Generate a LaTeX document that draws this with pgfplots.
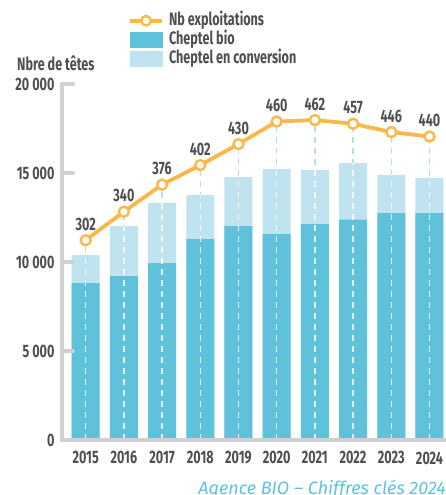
\documentclass[border=0pt]{standalone}
\usepackage{pgfplots}
\pgfplotsset{compat=1.18}
\usepackage{fontspec}
\setmainfont{Fira Sans}[FakeStretch=0.7]
\newfontfamily\capfont{Fira Sans}[FakeStretch=1.0]
\definecolor{bio}{HTML}{5FC2DA}
\definecolor{conv}{HTML}{C0E4EF}
\definecolor{orng}{HTML}{FBB848}
\definecolor{axgray}{HTML}{D0D0D0}
\definecolor{txt}{HTML}{4F4F4F}
\definecolor{dashc}{HTML}{B5DFEC}
\definecolor{capc}{HTML}{5CC3DF}
\newcommand{\lblfont}{\bfseries\fontsize{18}{19}\selectfont}
\pgfplotsset{
  base/.style={at={(62pt,55pt)}, anchor=south west, scale only axis,
    width=384pt, height=356pt, xmin=-0.62, xmax=9.432},
}
\begin{document}
\begin{tikzpicture}
\path[use as bounding box] (0,0) rectangle (446pt,495pt);
% dashed guides above bars (behind)
\begin{axis}[base, ymin=36, ymax=510, hide axis]
\addplot[ycomb, dashc, line width=1.3pt, dash pattern=on 6pt off 5pt] coordinates {
(0,302) (1,340) (2,376) (3,402) (4,430) (5,460) (6,462) (7,457) (8,446) (9,440)};
\end{axis}
% bars
\begin{axis}[base, ymin=0, ymax=20000,
  axis on top,
  scaled y ticks=false,
  axis x line=bottom, axis y line=left,
  axis line style={axgray, line width=4pt, -, line cap=round},
  ytick={0,5000,10000,15000,20000},
  yticklabels={0,5\,000,10\,000,15\,000,20\,000},
  ytick pos=left, tick align=inside, major tick length=11pt,
  major y tick style={axgray, line width=4pt, line cap=round},
  major x tick style={draw=none},
  xtick={0,...,9},
  xticklabels={2015,2016,2017,2018,2019,2020,2021,2022,2023,2024},
  yticklabel style={font=\lblfont, text=txt, xshift=-4pt},
  xticklabel style={font=\lblfont, text=txt, yshift=-8pt},
  legend style={at={(0.172,1.205)}, anchor=north west, draw=none, fill=none,
    inner sep=0pt, font=\lblfont, text=txt,
    nodes={text height=12pt, text depth=3pt, inner sep=2pt},
    /tikz/every odd column/.append style={column sep=3pt}},
  legend cell align=left,
]
\addlegendimage{legend image code/.code={\draw[orng, line width=3.8pt] (0pt,0pt) -- (32pt,0pt); \draw[orng, line width=2.4pt, fill=white] (16pt,0pt) circle (4.8pt);}}
\addlegendentry{Nb exploitations}
\addlegendimage{legend image code/.code={\fill[bio] (0pt,-7.5pt) rectangle (32pt,7.5pt);}}
\addlegendentry{Cheptel bio}
\addlegendimage{legend image code/.code={\fill[conv] (0pt,-7.5pt) rectangle (32pt,7.5pt);}}
\addlegendentry{Cheptel en conversion}
% total (bio + conversion)
\addplot[ybar, bar width=28pt, bar shift=0pt, fill=conv, draw=none, forget plot] coordinates {
(0,10390) (1,12020) (2,13310) (3,13760) (4,14770) (5,15220) (6,15170) (7,15560) (8,14900) (9,14720)};
% bio
\addplot[ybar, bar width=28pt, bar shift=0pt, fill=bio, draw=none, forget plot] coordinates {
(0,8820) (1,9210) (2,9940) (3,11290) (4,12020) (5,11570) (6,12130) (7,12380) (8,12750) (9,12750)};
\addplot[ycomb, white, opacity=0.8, line width=1.3pt, dash pattern=on 6pt off 5pt, forget plot] coordinates {
(0,10390) (1,12020) (2,13310) (3,13760) (4,14770) (5,15220) (6,15170) (7,15560) (8,14900) (9,14720)};
\end{axis}
% line
\begin{axis}[base, ymin=36, ymax=510, hide axis, clip=false,
  /pgf/number format/assume math mode=true]
\addplot[orng, line width=3.8pt, mark=*, mark size=5pt,
  mark options={fill=white, draw=orng, line width=2.4pt},
  nodes near coords,
  every node near coord/.append style={font=\lblfont, text=txt, yshift=5pt}]
coordinates {
(0,302) (1,340) (2,376) (3,402) (4,430) (5,460) (6,462) (7,457) (8,446) (9,440)};
\end{axis}
\node[anchor=west, font=\lblfont, text=txt, inner sep=0pt] at (17pt,431.3pt) {Nbre de têtes};
\node[anchor=base east, inner sep=0pt, text=capc] at (446pt,1pt) {\capfont\itshape\fontsize{18}{19}\selectfont Agence BIO – Chiffres clés 2024};
\end{tikzpicture}
\end{document}
